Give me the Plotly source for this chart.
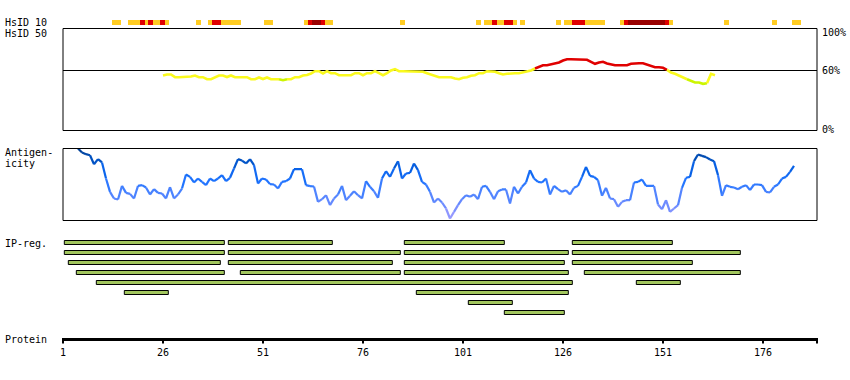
import plotly.graph_objects as go

W, H = 850, 380
X0_PX = 63.0          # pixel of residue 1
PX_PER_RES = 4.0      # pixels per residue

# ---------------- data ----------------
protein_end = 189.5
tick_vals = [1, 26, 51, 76, 101, 126, 151, 176]
tick_labels = ["1", "26", "51", "76", "101", "126", "151", "176"]

# HsID 10 track: segments (residue units) and identity level (1 = orange, 2 = red, 3 = dark red)
hsid10_start = [13.25, 17.25, 20.25, 21.5, 22.25, 23.5, 25.25, 26.5, 34.25, 37.25, 38.25, 40.5,
                51.25, 61.25, 62.25, 63.25, 65.5, 66.5, 85.25, 104.25, 106.25, 108.25, 109.5,
                111.25, 113.5, 115.25, 124.25, 126.25, 128.25, 131.5, 140.25, 141.25, 142.25,
                151.5, 152.5, 166.25, 178.25, 183.25]
hsid10_end = [15.5, 20.25, 21.5, 22.25, 23.5, 25.25, 26.5, 27.5, 35.5, 38.25, 40.5, 45.5,
              53.5, 62.25, 63.25, 65.5, 66.5, 68.5, 86.5, 105.5, 108.25, 109.5, 111.25,
              113.5, 114.5, 116.5, 125.5, 128.25, 131.5, 136.5, 141.25, 142.25, 151.5,
              152.5, 153.5, 167.5, 179.5, 185.5]
hsid10_level = [1, 1, 2, 1, 2, 1, 2, 1, 1, 1, 2, 1,
                1, 1, 2, 3, 2, 1, 1, 1, 1, 2, 1,
                2, 1, 1, 1, 1, 2, 1, 1, 2, 3,
                2, 1, 1, 1, 1]
hsid10_colors = {1: "#FFCC22", 2: "#E00000", 3: "#990000"}

# HsID 50 curve (%), residues 26..164
hsid50_first = 26
hsid50 = [55, 56, 56, 53.3, 53.3, 53.3, 53.3, 54, 55, 53.3, 53.3, 51.3, 51.3, 53, 55, 55,
          53.5, 55, 53.3, 53.3, 53.3, 53.3, 51.3, 51.3, 53, 51.5, 53, 51.3, 51.3, 51.3, 50.3,
          51.3, 51.3, 53.3, 53.3, 55, 55.5, 57, 59.3, 59.3, 57, 59.3, 57.3, 57.3, 55.3, 55.3,
          55.3, 55.3, 57.3, 57.3, 55.3, 57.3, 57.3, 59.3, 57.3, 55.3, 57.3, 60, 61.3, 59.3,
          59.3, 59.3, 59.3, 59.3, 59.3, 58.7, 57.3, 56, 54, 53.3, 53.3, 53.3, 53.3, 52, 51.3,
          52.7, 53.3, 54.7, 55.3, 57.3, 57.3, 59.3, 59.3, 58.7, 57.3, 56, 56.7, 57.3, 57.3,
          57.3, 58.3, 59.3, 60, 62, 64, 65.3, 65.3, 66, 67.3, 68, 70, 71.3, 71.3, 71.3, 71.3,
          71.3, 70.7, 68.7, 66.7, 68, 68.7, 67, 66, 65.3, 65.3, 65.3, 65.3, 66.7, 67.3, 67.3,
          67.3, 66, 64, 63.3, 63.3, 62.7, 60.7, 58, 56.7, 54.7, 53.3, 51.3, 49.3, 48, 48,
          46.7, 47.3, 56.7, 55.3]

# Antigenicity (relative score 0-100), starting at residue 4.75
antig_first = 4.75
antig = [100, 94.4, 92.1, 90.7, 78.2, 85.2, 80.6, 58.3, 39.8, 30.6,
         29.2, 48.1, 38.4, 37.0, 30.6, 48.1, 49.1, 45.8, 36.1, 43.5,
         38.4, 37.5, 30.6, 46.3, 30.6, 36.1, 44.4, 63.9, 60.6, 52.8,
         58.3, 53.7, 49.1, 58.3, 54.6, 58.3, 63.0, 54.6, 59.3, 72.2,
         85.2, 83.3, 79.2, 85.2, 76.9, 51.4, 58.3, 56.9, 50.5, 50.0,
         44.4, 53.7, 54.6, 58.3, 71.3, 71.3, 71.3, 49.1, 47.7, 47.2,
         25.9,
         29.6, 35.2, 21.3, 30.6, 36.1, 48.1, 28.2, 34.3, 40.7, 35.2,
         30.6, 54.6, 46.8, 40.7, 31.5, 58.3, 68.5, 60.6, 72.2, 82.4,
         58.3, 65.3, 66.2, 79.2, 69.9, 53.7, 50.0, 39.8, 25.0, 30.6,
         25.0, 16.7, 2.8, 12.0, 21.3, 29.6, 35.2, 32.9, 36.1, 29.6,
         46.8, 48.1, 39.8, 29.6, 40.7, 43.1, 43.1, 23.6, 46.8, 37.5,
         46.8, 52.8, 69.9, 58.3, 53.7, 52.8, 58.3, 36.1, 48.1, 43.5,
         39.8, 42.1, 36.1,
         45.4, 48.1, 60.6, 74.5, 62.0, 60.6, 56.0, 34.3, 45.4, 30.6,
         29.6, 19.0, 25.9, 28.2, 28.2, 52.8, 53.7, 56.9, 48.1, 48.1,
         48.1, 22.2, 15.7, 28.2, 12.0, 16.7, 21.3, 45.4, 59.3, 60.6,
         82.4, 91.7, 89.8, 88.0, 84.7, 82.4, 63.0, 34.3, 49.1, 46.8,
         45.8, 43.5, 46.8, 49.1, 42.1, 50.0, 50.0, 49.1, 39.8, 38.9,
         46.8, 50.0, 58.3, 60.6, 67.6, 75.9]

# IP regions
ip_start = [1, 42, 86, 128, 1, 42, 86, 128, 2, 42, 86, 128, 4, 45, 86, 131, 9, 144, 16, 89, 102, 111]
ip_end = [41, 68, 111, 153, 41, 85, 127, 170, 40, 83, 126, 158, 41, 85, 127, 170, 128, 155, 27, 127, 113, 126]
ip_row = [0, 0, 0, 0, 1, 1, 1, 1, 2, 2, 2, 2, 3, 3, 3, 3, 4, 4, 5, 5, 6, 7]

# ---------------- helpers ----------------
FONT = dict(family="DejaVu Sans Mono", size=10, color="black")


def py(p):
    return 1 - p / H


def c50(v):
    if v >= 61.5:
        return "#E00000"
    if v >= 51:
        return "#FAFA1E"
    return "#CCF500"


ANT_STOPS = [(0, (170, 160, 255)), (20, (112, 140, 255)), (40, (72, 130, 255)),
             (55, (30, 115, 255)), (70, (10, 100, 235)), (85, (0, 80, 190)), (100, (0, 62, 145))]


def cant(v):
    for (a, ca), (b, cb) in zip(ANT_STOPS[:-1], ANT_STOPS[1:]):
        if v <= b:
            t = (v - a) / (b - a)
            c = [round(ca[i] + (cb[i] - ca[i]) * t) for i in range(3)]
            return "rgb(%d,%d,%d)" % tuple(c)
    return "rgb(%d,%d,%d)" % ANT_STOPS[-1][1]


fig = go.Figure()

# HsID 50 curve, grouped by colour class
xs50 = [hsid50_first + i for i in range(len(hsid50))]
groups = []
for i in range(len(hsid50) - 1):
    col = c50((hsid50[i] + hsid50[i + 1]) / 2)
    if groups and groups[-1][0] == col:
        groups[-1][1].append(xs50[i + 1])
        groups[-1][2].append(hsid50[i + 1])
    else:
        groups.append([col, [xs50[i], xs50[i + 1]], [hsid50[i], hsid50[i + 1]]])
for col, gx, gy in groups:
    fig.add_trace(go.Scatter(x=gx, y=gy, mode="lines", xaxis="x", yaxis="y",
                             line=dict(color=col, width=2.6), hoverinfo="skip",
                             showlegend=False))

# Antigenicity curve, segment colours by value
xsa = [antig_first + i for i in range(len(antig))]
for i in range(len(antig) - 1):
    col = cant((antig[i] + antig[i + 1]) / 2)
    fig.add_trace(go.Scatter(x=[xsa[i], xsa[i + 1]], y=[antig[i], antig[i + 1]],
                             mode="lines", xaxis="x", yaxis="y2",
                             line=dict(color=col, width=2.2), hoverinfo="skip",
                             showlegend=False))

shapes = []
# HsID 10 track
for s, e, lv in zip(hsid10_start, hsid10_end, hsid10_level):
    shapes.append(dict(type="rect", xref="x", yref="paper", x0=s, x1=e,
                       y0=py(25), y1=py(20), fillcolor=hsid10_colors[lv],
                       line=dict(width=0)))
# HsID 50 box + 60% line
shapes.append(dict(type="rect", xref="x", yref="paper", x0=1, x1=protein_end,
                   y0=py(130.5), y1=py(28.5), line=dict(color="black", width=1)))
shapes.append(dict(type="line", xref="x", yref="y", x0=1, x1=protein_end, y0=60, y1=60,
                   line=dict(color="black", width=1), layer="below"))
# Antigenicity box
shapes.append(dict(type="rect", xref="x", yref="paper", x0=1, x1=protein_end,
                   y0=py(220.5), y1=py(148.5), line=dict(color="black", width=1)))
# IP-region bars
for s, e, r in zip(ip_start, ip_end, ip_row):
    shapes.append(dict(type="rect", xref="x", yref="paper", x0=s + 0.33, x1=e + 0.33,
                       y0=py(244.5 + 10 * r), y1=py(240.5 + 10 * r),
                       fillcolor="#A2C65E", line=dict(color="black", width=1)))
# Protein axis
shapes.append(dict(type="line", xref="x", yref="paper", x0=1, x1=protein_end,
                   y0=py(339.5), y1=py(339.5), line=dict(color="black", width=3)))
for t in tick_vals + [protein_end]:
    shapes.append(dict(type="line", xref="x", yref="paper", x0=t, x1=t,
                       y0=py(338), y1=py(343.5), line=dict(color="black", width=2)))

annotations = []


def label(text, xpx, ypx, anchor="left"):
    annotations.append(dict(text=text, x=xpx / W, y=py(ypx), xref="paper", yref="paper",
                            xanchor=anchor, yanchor="middle", showarrow=False, font=FONT))


label("HsID 10", 3, 22.5)
label("HsID 50", 3, 33)
label("Antigen-", 3, 152.5)
label("icity", 3, 163)
label("IP-reg.", 3, 243.5)
label("Protein", 3, 339.5)
label("100%", 820, 32.5)
label("60%", 820, 70.5)
label("0%", 820, 130)
for t, lab in zip(tick_vals, tick_labels):
    annotations.append(dict(text=lab, x=t, y=py(352), xref="x", yref="paper",
                            xanchor="center", yanchor="middle", showarrow=False, font=FONT))

fig.update_layout(
    width=W, height=H,
    margin=dict(l=0, r=0, t=0, b=0),
    paper_bgcolor="white", plot_bgcolor="rgba(0,0,0,0)",
    xaxis=dict(domain=[0, 1], range=[1 - X0_PX / PX_PER_RES, 1 + (W - X0_PX) / PX_PER_RES],
               visible=False, fixedrange=True),
    yaxis=dict(domain=[py(130.5), py(28.5)], range=[0, 102], visible=False,
               fixedrange=True, anchor="x"),
    yaxis2=dict(domain=[py(220.5), py(148.5)], range=[0, 100], visible=False,
                fixedrange=True, anchor="x"),
    shapes=shapes, annotations=annotations, showlegend=False,
)

fig.write_html("out.html", config={"displayModeBar": False},
               post_script="document.body.style.margin='0';document.body.style.padding='0';")
